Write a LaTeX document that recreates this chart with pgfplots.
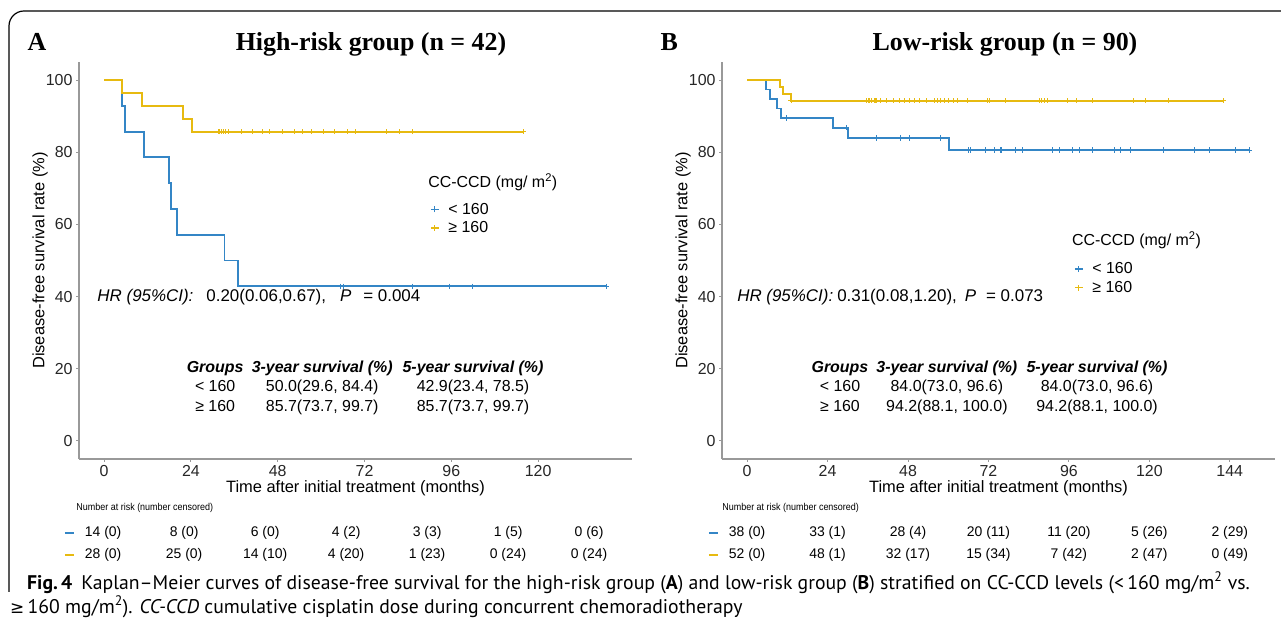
\documentclass[border=0pt]{standalone}
\usepackage{fontspec}
\setmainfont{Liberation Sans}
\newfontfamily\serifb{Liberation Serif}
\newfontfamily\capfont{PT Sans}
\newfontfamily\symf{DejaVu Sans}
\usepackage{pgfplots}
\pgfplotsset{compat=1.18}
\definecolor{cblue}{HTML}{3486C6}
\definecolor{cyel}{HTML}{E7BA10}
\newcommand{\fsa}{\fontsize{16}{19.5}\selectfont}
\newcommand{\fsh}{\fontsize{17}{19.5}\selectfont}
\pgfplotsset{
  kmstyle/.style={
    width=553bp, height=397bp, scale only axis,
    ymin=-5, ymax=105, clip=false,
    axis x line*=bottom, axis y line*=left,
    axis line style={draw=black!40, line width=1.2bp, -},
    ytick={0,20,...,100},
    tick align=outside, major tick length=3bp,
    tick style={draw=black!40, line width=1bp},
    ticklabel style={font=\fontsize{16}{16}\selectfont, text=black!85},
    /pgf/number format/assume math mode=true,
    xlabel={Time after initial treatment (months)},
    ylabel={Disease-free survival rate (\%)},
    label style={font=\fontsize{16.5}{16.5}\selectfont},
    xlabel style={at={(axis description cs:0.5,-0.073)}, anchor=center},
    ylabel style={at={(axis description cs:-0.0705,0.5)}, anchor=center},
    legend style={draw=none, fill=none, font=\fontsize{16}{16}\selectfont, row sep=2bp, inner sep=0pt,
      cells={anchor=west}, /tikz/every odd column/.append style={column sep=7bp}},
    legend image code/.code={\draw[#1,line width=1.2bp] (0bp,0bp)--(8bp,0bp); \draw[#1,line width=1bp] (4bp,-3bp)--(4bp,3bp);},
  },
  kmline/.style={const plot, line width=1.8bp, forget plot},
  kmcens/.style={only marks, mark=+, mark size=2.6bp, line width=0.9bp, forget plot},
}
\tikzset{
  tabn/.style={font=\fsa, anchor=center, text height=1.6ex, text depth=0.4ex, inner sep=0pt},
  riskn/.style={font=\fontsize{14}{14}\selectfont, anchor=center, text height=1.6ex, text depth=0.4ex, inner sep=0pt},
}
\begin{document}
\begin{tikzpicture}
\useasboundingbox (0bp,0bp) rectangle (1281bp,628bp);
\clip (0bp,0bp) rectangle (1281bp,628bp);
% frame
\draw[line width=1.2bp] (9bp,36bp) -- (9bp,602bp) arc[start angle=180,end angle=90,radius=15bp] -- (1300bp,617bp);
% titles
\node[font=\serifb\bfseries\fontsize{26}{26}\selectfont, anchor=base west] at (24bp,577bp) {A};
\node[font=\serifb\bfseries\fontsize{26}{26}\selectfont, anchor=base] at (371bp,577bp) {High-risk group (n = 42)};
\node[font=\serifb\bfseries\fontsize{26}{26}\selectfont, anchor=base west] at (657bp,577bp) {B};
\node[font=\serifb\bfseries\fontsize{26}{26}\selectfont, anchor=base] at (1005bp,577bp) {Low-risk group (n = 90)};

% ---------------- Panel A ----------------
\begin{axis}[kmstyle, at={(79bp,169bp)}, anchor=south west,
  xmin=-6.95, xmax=145.95, xtick={0,24,...,120},
  legend style={at={(0.6347,0.65)}, anchor=north west}]
\addplot[kmline, cblue] coordinates {(0,100)(5,92.86)(5.8,85.71)(11.1,78.57)(18,71.43)(18.4,64.29)(20.1,57.14)(33.3,50)(37.1,42.86)(139,42.86)};
\addplot[kmline, cyel] coordinates {(0,100)(5,96.43)(10.4,92.86)(21.9,89.29)(24.2,85.71)(116,85.71)};
\addplot[kmcens, cblue] coordinates {(65.2,42.86)(66.2,42.86)(85.2,42.86)(95.6,42.86)(101.7,42.86)(139,42.86)};
\addplot[kmcens, cyel] coordinates {(31.5,85.71)(32.0,85.71)(32.5,85.71)(33.0,85.71)(33.5,85.71)(34.3,85.71)(37.9,85.71)(40.9,85.71)(43.7,85.71)(45.6,85.71)(49.2,85.71)(52.5,85.71)(54.7,85.71)(57.2,85.71)(60.5,85.71)(63.6,85.71)(67.2,85.71)(69.4,85.71)(78.0,85.71)(81.6,85.71)(85.2,85.71)(116,85.71)};
\addlegendimage{cblue}\addlegendentry{< 160}
\addlegendimage{cyel}\addlegendentry{≥ 160}
\node[anchor=west, inner sep=0pt, font=\fontsize{16}{16}\selectfont] at (axis cs:89.6,71.7) {CC-CCD (mg/ m\textsuperscript{2})};
\node[anchor=west, inner sep=0pt, font=\fsh] at (axis cs:-1.9,39.9) {\textit{HR (95\%CI):}\hspace{13bp}0.20(0.06,0.67),\hspace{14bp}\textit{P}\hspace{12bp}= 0.004};
\node[tabn] at (axis cs:30.7,19.9) {\bfseries\itshape Groups};
\node[tabn] at (axis cs:60.3,19.9) {\bfseries\itshape 3-year survival (\%)};
\node[tabn] at (axis cs:102,19.9) {\bfseries\itshape 5-year survival (\%)};
\node[tabn] at (axis cs:30.7,14.6) {< 160};
\node[tabn] at (axis cs:60.3,14.6) {50.0(29.6, 84.4)};
\node[tabn] at (axis cs:102,14.6) {42.9(23.4, 78.5)};
\node[tabn] at (axis cs:30.7,9.1) {≥ 160};
\node[tabn] at (axis cs:60.3,9.1) {85.7(73.7, 99.7)};
\node[tabn] at (axis cs:102,9.1) {85.7(73.7, 99.7)};
% risk table
\node[anchor=west, inner sep=0pt, font=\fontsize{10}{10}\selectfont] at (axis cs:-7.7,-18.6) {\scalebox{0.9}[1]{Number at risk (number censored)}};
\node[inner sep=0pt] at (axis cs:-9.6,-25.5) {\color{cblue}\rule{9bp}{2.6bp}};
\node[inner sep=0pt] at (axis cs:-9.6,-31.6) {\color{cyel}\rule{9bp}{2.6bp}};
\node[riskn] at (axis cs:-0.28,-25.5) {14 (0)};
\node[riskn] at (axis cs:22.11,-25.5) {8 (0)};
\node[riskn] at (axis cs:44.51,-25.5) {6 (0)};
\node[riskn] at (axis cs:66.90,-25.5) {4 (2)};
\node[riskn] at (axis cs:89.30,-25.5) {3 (3)};
\node[riskn] at (axis cs:111.69,-25.5) {1 (5)};
\node[riskn] at (axis cs:134.08,-25.5) {0 (6)};
\node[riskn] at (axis cs:-0.28,-31.6) {28 (0)};
\node[riskn] at (axis cs:22.11,-31.6) {25 (0)};
\node[riskn] at (axis cs:44.51,-31.6) {14 (10)};
\node[riskn] at (axis cs:66.90,-31.6) {4 (20)};
\node[riskn] at (axis cs:89.30,-31.6) {1 (23)};
\node[riskn] at (axis cs:111.69,-31.6) {0 (24)};
\node[riskn] at (axis cs:134.08,-31.6) {0 (24)};
\end{axis}

% ---------------- Panel B ----------------
\begin{axis}[kmstyle, at={(722bp,169bp)}, anchor=south west,
  xmin=-7.5, xmax=157.5, xtick={0,24,...,144},
  legend style={at={(0.6365,0.50)}, anchor=north west}]
\addplot[kmline, cblue] coordinates {(0,100)(5.6,97.37)(6.7,94.74)(8.8,92.11)(10,89.47)(25.7,86.76)(30.2,83.96)(60.3,80.6)(150,80.6)};
\addplot[kmline, cyel] coordinates {(0,100)(9.8,98.08)(10.8,96.15)(13.1,94.23)(142,94.23)};
\addplot[kmcens, cblue] coordinates {(11.8,89.47)(29.7,86.76)(38.7,83.96)(45.8,83.96)(48.3,83.96)(57.7,83.96)(66,80.6)(66.7,80.6)(71.2,80.6)(73.7,80.6)(75.5,80.6)(76,80.6)(80.1,80.6)(82.2,80.6)(91.1,80.6)(93.1,80.6)(97,80.6)(99.1,80.6)(103,80.6)(109.6,80.6)(111.5,80.6)(114.5,80.6)(124.2,80.6)(133.6,80.6)(137.9,80.6)(145.6,80.6)(150,80.6)};
\addplot[kmcens, cyel] coordinates {(13.1,94.23)(35.7,94.23)(36.2,94.23)(36.5,94.23)(37.0,94.23)(37.2,94.23)(37.9,94.23)(38.3,94.23)(38.7,94.23)(39.7,94.23)(41.5,94.23)(43.8,94.23)(45.4,94.23)(46.9,94.23)(48.3,94.23)(49.9,94.23)(51.3,94.23)(53.4,94.23)(55.9,94.23)(56.8,94.23)(57.6,94.23)(58.8,94.23)(60.1,94.23)(61.6,94.23)(62.6,94.23)(65.6,94.23)(71.6,94.23)(72.3,94.23)(77,94.23)(87.2,94.23)(87.9,94.23)(88.6,94.23)(89.7,94.23)(95.6,94.23)(98.4,94.23)(102.9,94.23)(115.4,94.23)(118.7,94.23)(125.6,94.23)(142,94.23)};
\addlegendimage{cblue}\addlegendentry{< 160}
\addlegendimage{cyel}\addlegendentry{≥ 160}
\node[anchor=west, inner sep=0pt, font=\fontsize{16}{16}\selectfont] at (axis cs:96.9,55.7) {CC-CCD (mg/ m\textsuperscript{2})};
\node[anchor=west, inner sep=0pt, font=\fsh] at (axis cs:-3,39.9) {\textit{HR (95\%CI):}\hspace{4bp}0.31(0.08,1.20),\hspace{8bp}\textit{P}\hspace{10bp}= 0.073};
\node[tabn] at (axis cs:27.7,19.9) {\bfseries\itshape Groups};
\node[tabn] at (axis cs:59.6,19.9) {\bfseries\itshape 3-year survival (\%)};
\node[tabn] at (axis cs:104.4,19.9) {\bfseries\itshape 5-year survival (\%)};
\node[tabn] at (axis cs:27.7,14.6) {< 160};
\node[tabn] at (axis cs:59.6,14.6) {84.0(73.0, 96.6)};
\node[tabn] at (axis cs:104.4,14.6) {84.0(73.0, 96.6)};
\node[tabn] at (axis cs:27.7,9.1) {≥ 160};
\node[tabn] at (axis cs:59.6,9.1) {94.2(88.1, 100.0)};
\node[tabn] at (axis cs:104.4,9.1) {94.2(88.1, 100.0)};
\node[anchor=west, inner sep=0pt, font=\fontsize{10}{10}\selectfont] at (axis cs:-7.45,-18.6) {\scalebox{0.9}[1]{Number at risk (number censored)}};
\node[inner sep=0pt] at (axis cs:-10.1,-25.5) {\color{cblue}\rule{9bp}{2.6bp}};
\node[inner sep=0pt] at (axis cs:-10.1,-31.6) {\color{cyel}\rule{9bp}{2.6bp}};
\node[riskn] at (axis cs:0,-25.5) {38 (0)};
\node[riskn] at (axis cs:24,-25.5) {33 (1)};
\node[riskn] at (axis cs:48,-25.5) {28 (4)};
\node[riskn] at (axis cs:72,-25.5) {20 (11)};
\node[riskn] at (axis cs:96,-25.5) {11 (20)};
\node[riskn] at (axis cs:120,-25.5) {5 (26)};
\node[riskn] at (axis cs:144,-25.5) {2 (29)};
\node[riskn] at (axis cs:0,-31.6) {52 (0)};
\node[riskn] at (axis cs:24,-31.6) {48 (1)};
\node[riskn] at (axis cs:48,-31.6) {32 (17)};
\node[riskn] at (axis cs:72,-31.6) {15 (34)};
\node[riskn] at (axis cs:96,-31.6) {7 (42)};
\node[riskn] at (axis cs:120,-31.6) {2 (47)};
\node[riskn] at (axis cs:144,-31.6) {0 (49)};
\end{axis}

% caption
\node[anchor=base west, inner sep=0pt, font=\capfont\fontsize{19.8}{19.8}\selectfont] at (27bp,39bp) {\textbf{Fig.\,4}\hspace{9bp}Kaplan–Meier curves of disease-free survival for the high-risk group (\textbf{A}) and low-risk group (\textbf{B}) stratified on CC-CCD levels (<\,160 mg/m\textsuperscript{2} vs.};
\node[anchor=base west, inner sep=0pt, font=\capfont\fontsize{19.8}{19.8}\selectfont] at (10bp,15bp) {{\symf\fontsize{17}{17}\selectfont ≥}\,160 mg/m\textsuperscript{2}). \textit{CC-CCD} cumulative cisplatin dose during concurrent chemoradiotherapy};
\end{tikzpicture}
\end{document}
